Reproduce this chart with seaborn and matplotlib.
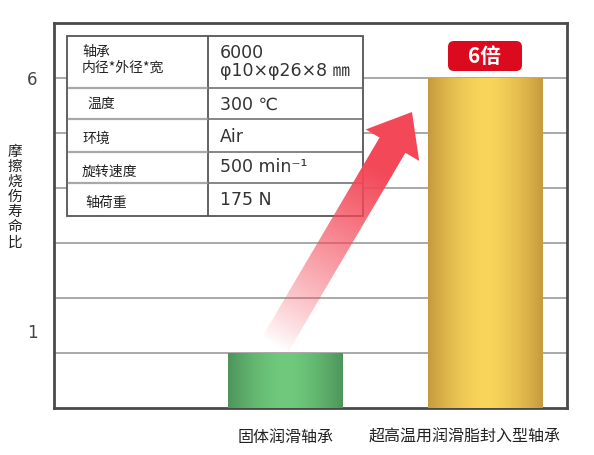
#### 摩擦烧伤寿命比 - 固体润滑轴承 vs 超高温用润滑脂封入型轴承 ####

import numpy as np
import pandas as pd
import matplotlib
matplotlib.use('Agg')
import matplotlib.pyplot as plt
import seaborn as sns
from matplotlib.patches import Polygon, Rectangle, FancyBboxPatch
from matplotlib.colors import to_rgb
import matplotlib.transforms as mtransforms

#### 数据 ####
categories = ['固体润滑轴承', '超高温用润滑脂封入型轴承']
life_ratio = [1, 6]
ytick_values = [1, 6]
ratio_label = '6倍'
y_label = '摩擦烧伤寿命比'

table_items = ['轴承\n内径*外径*宽', '温度', '环境', '旋转速度', '轴荷重']
table_values = ['6000\nφ10×φ26×8 ㎜', '300 ℃', 'Air', '500 min⁻¹', '175 N']

#### 颜色 ####
bar_edge_colors = ['#4d955b', '#c59a3e']
bar_center_colors = ['#70ca7c', '#f9d65b']
arrow_color = '#f34858'
badge_color = '#dc0a1f'

sns.set_theme(style='white')
plt.rcParams['font.family'] = ['Noto Sans CJK SC', 'DejaVu Sans']

W, H = 594, 455
fig = plt.figure(figsize=(W / 100, H / 100), dpi=100)

# 主坐标轴 (像素框: 左54 右567 上23 下408)
ax = fig.add_axes([54 / W, 1 - 408 / H, 513 / W, 385 / H])
df = pd.DataFrame({'类别': categories, '寿命比': life_ratio})
sns.barplot(data=df, x='类别', y='寿命比', width=0.575, color='#888888', ax=ax, zorder=3)

xlim = (-1.1575, 1.41)
ylim = (0, 385 / 55)
ax.set_xlim(*xlim)
ax.set_ylim(*ylim)

#### 柱子渐变 ####
s = np.linspace(-1, 1, 200)
mix = np.abs(s) ** 1.6
for patch, c_edge, c_mid in zip(ax.patches, bar_edge_colors, bar_center_colors):
    e = np.array(to_rgb(c_edge))
    m = np.array(to_rgb(c_mid))
    row = m[None, :] * (1 - mix[:, None]) + e[None, :] * mix[:, None]
    img = np.repeat(row[None, :, :], 2, axis=0)
    x0, w, h = patch.get_x(), patch.get_width(), patch.get_height()
    im = ax.imshow(img, extent=(x0, x0 + w, 0, h), aspect='auto', origin='lower', zorder=4)
    im.set_clip_path(patch)
    patch.set_facecolor('none')
    patch.set_edgecolor('none')
ax.set_xlim(*xlim)
ax.set_ylim(*ylim)

#### 网格与边框 ####
for v in range(1, 7):
    ax.axhline(v, color='#a3a3a3', lw=1.3, zorder=1)
for sp in ax.spines.values():
    sp.set_visible(True)
    sp.set_color('#4a4a4a')
    sp.set_linewidth(2)

ax.set_yticks(ytick_values)
ax.set_yticklabels([str(v) for v in ytick_values])
ax.tick_params(axis='y', length=0, pad=12, labelsize=12, labelcolor='#444444')
ax.tick_params(axis='x', length=0, pad=15, labelsize=11.5, labelcolor='#222222')
for lab in ax.get_yticklabels():
    lab.set_family(['DejaVu Sans'])
    if lab.get_text() == '1':
        lab.set_transform(lab.get_transform() + mtransforms.ScaledTranslation(0, 22 / 100, fig.dpi_scale_trans))
xl = ax.get_xticklabels()
xl[1].set_transform(xl[1].get_transform() + mtransforms.ScaledTranslation(-20 / 100, 0, fig.dpi_scale_trans))
ax.set_xlabel('')

ax.set_ylabel('\n'.join(y_label), rotation=0, fontsize=10.5, color='#222222',
              ha='center', va='center', linespacing=1.1)
ax.yaxis.set_label_coords((15 - 54) / 513, (408 - 197) / 385)

#### 叠加层: 表格、箭头与标签 (像素坐标) ####
ov = fig.add_axes([0, 0, 1, 1], zorder=5)
ov.set_xlim(0, W)
ov.set_ylim(H, 0)
ov.axis('off')
ov.patch.set_alpha(0)

# "6倍" 标签
ov.add_patch(FancyBboxPatch((448, 41), 74, 30, boxstyle='round,pad=0,rounding_size=6',
                            fc=badge_color, ec='none', zorder=6))
ov.text(485, 56.5, ratio_label, fontsize=15, fontweight='bold', color='white',
        ha='center', va='center', zorder=7)

tx0, tx1, tcol, ty0, ty1 = 67, 363, 208, 36, 216
row_lines = [88, 119, 152, 183]
ov.add_patch(Rectangle((tx0, ty0), tx1 - tx0, ty1 - ty0, fc='white', ec='#555555', lw=1.3, zorder=1))
ov.plot([tcol, tcol], [ty0, ty1], color='#555555', lw=1.3, zorder=2)
for yl in row_lines:
    ov.plot([tx0 + 2, tcol], [yl, yl], color='#a8a8a8', lw=1.6, zorder=2)
    ov.plot([tcol, tx1], [yl, yl], color='#666666', lw=1.1, zorder=2)

item_pos = [(82, 60), (87, 104), (82, 139), (82, 172), (85, 203)]
value_pos = [(220, 62), (220, 105), (220, 137), (220, 167), (220, 200)]
for txt, (x, y) in zip(table_items, item_pos):
    ov.text(x, y, txt, fontsize=10, color='#222222', ha='left', va='center', linespacing=1.15, zorder=3)
for txt, (x, y) in zip(table_values, value_pos):
    ov.text(x, y, txt, fontsize=12.5, color='#333333', ha='left', va='center', linespacing=1.05,
            family=['DejaVu Sans', 'Noto Sans CJK SC'], zorder=3)

# 箭头
tip = np.array([412.0, 112.0])
u = np.array([0.5075, -0.862])
n = np.array([0.862, 0.5075])
base = tip - 38.5 * u
tail = base - 232 * u
hw, sw = 31, 15
arrow_pts = [tail - sw * n, base - sw * n, base - hw * n, tip,
             base + hw * n, base + sw * n, tail + sw * n]
arrow_poly = Polygon(arrow_pts, closed=True, fc='none', ec='none', zorder=4)
ov.add_patch(arrow_poly)

xs = np.linspace(240, 440, 300)
ys = np.linspace(90, 360, 400)
gx, gy = np.meshgrid(xs, ys)
t = ((gx - tail[0]) * u[0] + (gy - tail[1]) * u[1]) / np.linalg.norm(tip - tail)
alpha = np.clip(t / 0.75, 0, 1) ** 0.85
rgba = np.zeros(gx.shape + (4,))
rgba[..., :3] = to_rgb(arrow_color)
rgba[..., 3] = alpha
im = ov.imshow(rgba, extent=(xs[0], xs[-1], ys[0], ys[-1]), origin='lower', aspect='auto', zorder=4)
im.set_clip_path(arrow_poly)
ov.set_xlim(0, W)
ov.set_ylim(H, 0)

fig.savefig('out.png', dpi=100)
plt.close(fig)
